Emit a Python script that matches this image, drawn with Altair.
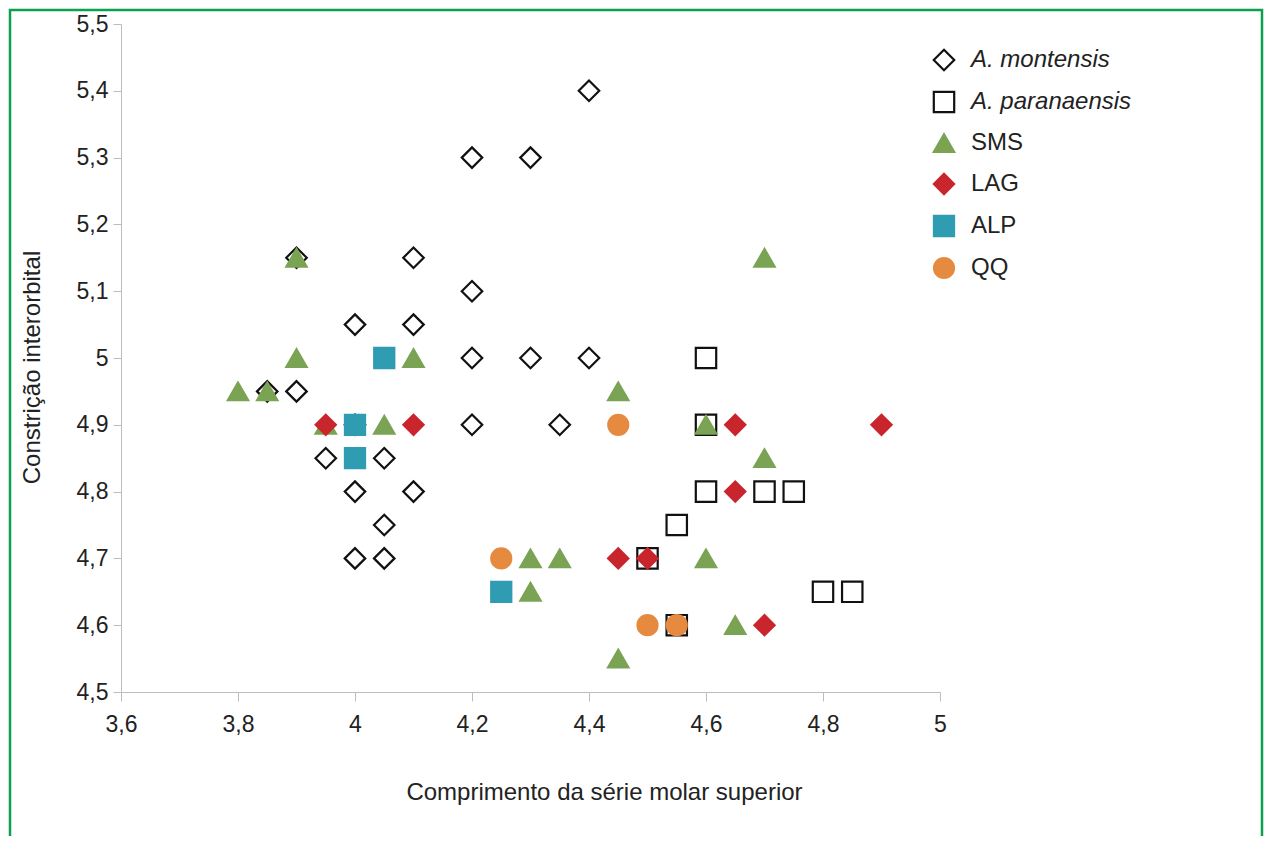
import altair as alt
import pandas as pd

series_names = ["A. montensis", "A. paranaensis", "SMS", "LAG", "ALP", "QQ"]

montensis_x = [4.4, 4.2, 4.3, 3.9, 4.1, 4.2, 4.0, 4.1, 4.2, 4.3, 4.4, 3.85, 3.9, 4.0, 4.2, 4.35, 3.95, 4.05, 4.0, 4.1, 4.05, 4.0, 4.05]
montensis_y = [5.4, 5.3, 5.3, 5.15, 5.15, 5.1, 5.05, 5.05, 5.0, 5.0, 5.0, 4.95, 4.95, 4.9, 4.9, 4.9, 4.85, 4.85, 4.8, 4.8, 4.75, 4.7, 4.7]

paranaensis_x = [4.6, 4.6, 4.6, 4.7, 4.75, 4.55, 4.5, 4.8, 4.85, 4.55]
paranaensis_y = [5.0, 4.9, 4.8, 4.8, 4.8, 4.75, 4.7, 4.65, 4.65, 4.6]

sms_x = [4.7, 3.9, 3.9, 4.1, 3.8, 3.85, 4.45, 3.95, 4.05, 4.6, 4.7, 4.3, 4.35, 4.6, 4.3, 4.65, 4.45]
sms_y = [5.15, 5.15, 5.0, 5.0, 4.95, 4.95, 4.95, 4.9, 4.9, 4.9, 4.85, 4.7, 4.7, 4.7, 4.65, 4.6, 4.55]

lag_x = [3.95, 4.1, 4.65, 4.9, 4.65, 4.45, 4.5, 4.7]
lag_y = [4.9, 4.9, 4.9, 4.9, 4.8, 4.7, 4.7, 4.6]

alp_x = [4.05, 4.0, 4.0, 4.25]
alp_y = [5.0, 4.9, 4.85, 4.65]

qq_x = [4.45, 4.25, 4.5, 4.55]
qq_y = [4.9, 4.7, 4.6, 4.6]

x_ticks = [3.6, 3.8, 4.0, 4.2, 4.4, 4.6, 4.8, 5.0]
y_ticks = [4.5, 4.6, 4.7, 4.8, 4.9, 5.0, 5.1, 5.2, 5.3, 5.4, 5.5]

shapes = ["diamond", "square", "triangle-up", "diamond", "square", "circle"]
fills = ["transparent", "transparent", "#7aa354", "#c9252c", "#2f9cb2", "#e58a3f"]
strokes = ["#111111", "#111111", "#7aa354", "#c9252c", "#2f9cb2", "#e58a3f"]
sizes = [420, 400, 400, 340, 390, 400]
stroke_widths = [2.2, 2.2, 0, 0, 0, 0]

rows = []
for name, xs, ys in [
    ("A. montensis", montensis_x, montensis_y),
    ("A. paranaensis", paranaensis_x, paranaensis_y),
    ("SMS", sms_x, sms_y),
    ("LAG", lag_x, lag_y),
    ("ALP", alp_x, alp_y),
    ("QQ", qq_x, qq_y),
]:
    for xv, yv in zip(xs, ys):
        rows.append({"x": xv, "y": yv, "series": name})
df = pd.DataFrame(rows)

FONT = "Liberation Sans"
label_expr = "replace(format(datum.value, '.1~f'), '.', ',')"

legend = alt.Legend(
    title=None,
    orient="none",
    legendX=811,
    legendY=24,
    labelFont=FONT,
    labelFontSize=24,
    labelColor="#222222",
    labelFontStyle=alt.ExprRef("indexof(datum.label, 'A.') == 0 ? 'italic' : 'normal'"),
    labelLimit=320,
    rowPadding=12,
    labelOffset=15,
)

points = alt.Chart(df).mark_point(filled=True, opacity=1).encode(
    x=alt.X(
        "x:Q",
        scale=alt.Scale(domain=[3.6, 5.0], nice=False, zero=False),
        axis=alt.Axis(
            title="Comprimento da série molar superior",
            values=x_ticks,
            labelExpr=label_expr,
            labelFlush=False,
            grid=False,
            tickSize=9,
            labelPadding=12,
            titleX=483,
            titleY=107,
            titleBaseline="alphabetic",
        ),
    ),
    y=alt.Y(
        "y:Q",
        scale=alt.Scale(domain=[4.5, 5.5], nice=False, zero=False),
        axis=alt.Axis(
            title="Constrição interorbital",
            values=y_ticks,
            labelExpr=label_expr,
            labelFlush=False,
            grid=False,
            tickSize=8,
            labelPadding=5,
            titleX=-82,
            titleY=343,
            titleBaseline="alphabetic",
        ),
    ),
    shape=alt.Shape("series:N", scale=alt.Scale(domain=series_names, range=shapes), legend=legend),
    fill=alt.Fill("series:N", scale=alt.Scale(domain=series_names, range=fills), legend=legend),
    stroke=alt.Stroke("series:N", scale=alt.Scale(domain=series_names, range=strokes), legend=legend),
    size=alt.Size("series:N", scale=alt.Scale(domain=series_names, range=sizes), legend=legend),
    strokeWidth=alt.StrokeWidth("series:N", scale=alt.Scale(domain=series_names, range=stroke_widths), legend=legend),
    order=alt.Order("idx:Q"),
).transform_window(idx="row_number()")

border = alt.Chart(alt.Data(values=[{"a": 1}])).mark_rect(
    fill="transparent", stroke="#0aa14f", strokeWidth=2.5
).encode(
    x=alt.value(-111),
    x2=alt.value(1141),
    y=alt.value(-14),
    y2=alt.value(900),
)

chart = alt.layer(border, points).properties(
    width=819,
    height=668,
    autosize=alt.AutoSizeParams(type="none"),
    padding={"left": 113, "top": 16, "right": 325, "bottom": 144},
    background="white",
).configure_view(
    strokeWidth=0
).configure_axis(
    domainColor="#bdbdbd",
    tickColor="#bdbdbd",
    labelFont=FONT,
    labelFontSize=23,
    labelColor="#222222",
    titleFont=FONT,
    titleFontSize=24,
    titleColor="#222222",
    titleFontWeight="normal",
)

chart.save("out.html", embed_options={"renderer": "svg", "actions": False})
